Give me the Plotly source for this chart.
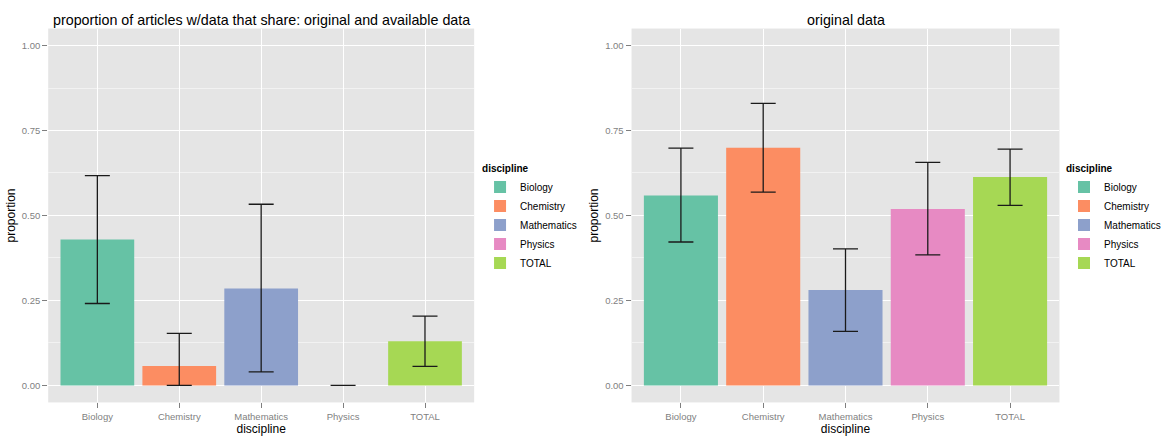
import plotly.graph_objects as go

disciplines = ["Biology", "Chemistry", "Mathematics", "Physics", "TOTAL"]
colors = ["#66C2A5", "#FC8D62", "#8DA0CB", "#E78AC3", "#A6D854"]

# left panel: original and available data
left_prop = [0.429, 0.057, 0.285, 0.0, 0.130]
left_low = [0.241, 0.0, 0.040, 0.0, 0.056]
left_high = [0.617, 0.153, 0.533, 0.0, 0.204]

# right panel: original data
right_prop = [0.559, 0.699, 0.281, 0.519, 0.613]
right_low = [0.422, 0.569, 0.159, 0.384, 0.530]
right_high = [0.698, 0.830, 0.402, 0.656, 0.695]

yticks = [0, 0.25, 0.5, 0.75, 1.0]
ytick_text = ["0.00", "0.25", "0.50", "0.75", "1.00"]

FONT = "Liberation Sans, Arial, sans-serif"
W, H = 1166, 436
fig = go.Figure()

panels = [
    (left_prop, left_low, left_high, "x", "y", "legend"),
    (right_prop, right_low, right_high, "x2", "y2", "legend2"),
]
for prop, low, high, xa, ya, lg in panels:
    for i, d in enumerate(disciplines):
        fig.add_trace(go.Bar(
            x=[d], y=[prop[i]], width=0.9,
            marker=dict(color=colors[i], line=dict(width=0)),
            name=d, legend=lg, xaxis=xa, yaxis=ya,
            error_y=dict(type="data", symmetric=False,
                         array=[high[i] - prop[i]], arrayminus=[prop[i] - low[i]],
                         color="#1a1a1a", thickness=1.3, width=12.5),
            showlegend=True,
        ))

axis_common_x = dict(
    type="category", categoryorder="array", categoryarray=disciplines,
    range=[-0.6, 4.6], showgrid=True, gridcolor="white", gridwidth=1.2,
    ticks="outside", ticklen=5, tickcolor="#7F7F7F",
    tickfont=dict(family=FONT, size=9.5, color="#7F7F7F"),
    zeroline=False, showline=False,
    title=dict(text="discipline", font=dict(family=FONT, size=12, color="black"), standoff=6),
)
axis_common_y = dict(
    range=[-0.05, 1.05], tickvals=yticks, ticktext=ytick_text,
    showgrid=True, gridcolor="white", gridwidth=1.2,
    minor=dict(tick0=0.125, dtick=0.25, showgrid=True, gridcolor="#F2F2F2", gridwidth=0.6, ticks=""),
    ticks="outside", ticklen=5, tickcolor="#7F7F7F",
    tickfont=dict(family=FONT, size=9.5, color="#7F7F7F"),
    zeroline=False, showline=False,
    title=dict(text="proportion", font=dict(family=FONT, size=12, color="black"), standoff=3),
)

legend_common = dict(
    xanchor="left", yanchor="top",
    title=dict(text="<b>discipline</b>", font=dict(family=FONT, size=10, color="black")),
    font=dict(family=FONT, size=10, color="black"), bgcolor="rgba(0,0,0,0)",
    tracegroupgap=0, itemclick=False,
)

fig.update_layout(
    width=W, height=H, autosize=False,
    margin=dict(l=0, r=0, t=0, b=0),
    paper_bgcolor="white", plot_bgcolor="#E5E5E5",
    barmode="overlay", bargap=0.1,
    font=dict(family=FONT),
    xaxis=dict(domain=[49 / W, 482 / W], anchor="y", **axis_common_x),
    yaxis=dict(domain=[1 - 409 / H, 1 - 29 / H], anchor="x", **axis_common_y),
    xaxis2=dict(domain=[642 / W, 1077 / W], anchor="y2", **axis_common_x),
    yaxis2=dict(domain=[1 - 409 / H, 1 - 29 / H], anchor="x2", **axis_common_y),
    legend=dict(x=488 / W, y=1 - 162 / H, **legend_common),
    legend2=dict(x=1082 / W, y=1 - 162 / H, **legend_common),
    annotations=[
        dict(text="proportion of articles w/data that share: original and available data",
             x=266 / W, y=1 - 20 / H, xref="paper", yref="paper", xanchor="center", yanchor="middle",
             showarrow=False, font=dict(family=FONT, size=14.3, color="black")),
        dict(text="original data",
             x=860 / W, y=1 - 20 / H, xref="paper", yref="paper", xanchor="center", yanchor="middle",
             showarrow=False, font=dict(family=FONT, size=14.3, color="black")),
    ],
)

fig.write_html(
    "out.html",
    config={"displayModeBar": False},
    post_script=(
        "document.documentElement.style.margin='0';document.documentElement.style.overflow='hidden';"
        "document.body.style.margin='0';document.body.style.overflow='hidden';"
    ),
)
